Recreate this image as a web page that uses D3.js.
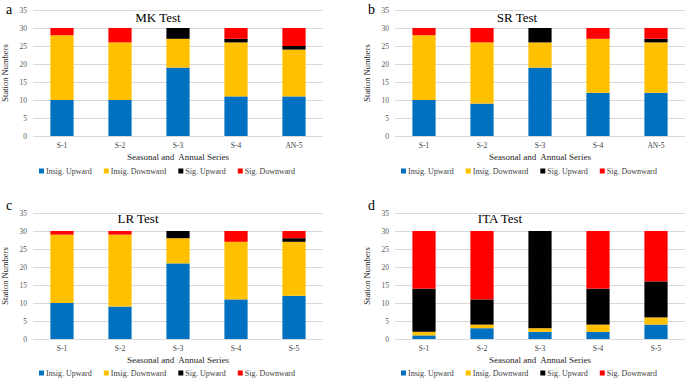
<!DOCTYPE html>
<html>
<head>
<meta charset="utf-8">
<script src="https://cdn.jsdelivr.net/npm/d3@7"></script>
<style>
  html, body { margin: 0; padding: 0; background: #fff; }
  svg { display: block; font-family: 'Liberation Serif', 'Times New Roman', serif; }
</style>
</head>
<body>
<script>
const seriesNames = ['Insig. Upward', 'Insig. Downward', 'Sig. Upward', 'Sig. Downward'];
const seriesColors = ['#0070c0', '#ffc000', '#000000', '#ff0000'];
const yTicks = [0, 5, 10, 15, 20, 25, 30, 35];

const catsAnnual = ['S-1', 'S-2', 'S-3', 'S-4', 'AN-5'];
const catsSeasonal = ['S-1', 'S-2', 'S-3', 'S-4', 'S-5'];

// rows follow seriesNames order, columns follow categories
const mkValues = [
  [10, 10, 19, 11, 11],
  [18, 16, 8, 15, 13],
  [0, 0, 3, 1, 1],
  [2, 4, 0, 3, 5]
];
const srValues = [
  [10, 9, 19, 12, 12],
  [18, 17, 7, 15, 14],
  [0, 0, 4, 0, 1],
  [2, 4, 0, 3, 3]
];
const lrValues = [
  [10, 9, 21, 11, 12],
  [19, 20, 7, 16, 15],
  [0, 0, 2, 0, 1],
  [1, 1, 0, 3, 2]
];
const itaValues = [
  [1, 3, 2, 2, 4],
  [1, 1, 1, 2, 2],
  [12, 7, 27, 10, 10],
  [16, 19, 0, 16, 14]
];

const svg = d3.select('body')
  .append('svg')
  .attr('width', 685)
  .attr('height', 379);

function drawPanel(p) {
  const dims = { gridLeft: 33, width: 290, top: 10, height: 126 };

  const g = svg.append('g')
    .attr('transform', `translate(${p.x} ${p.y})`);

  const xScale = d3.scaleBand()
    .domain(p.cats)
    .range([dims.gridLeft, dims.gridLeft + dims.width])
    .paddingInner(0.6)
    .paddingOuter(0.3);
  const yScale = d3.scaleLinear()
    .domain([0, 35])
    .range([dims.top + dims.height, dims.top]);

  // grid + y labels
  const yAxis = d3.axisLeft(yScale)
    .tickValues(yTicks)
    .tickSize(-dims.width)
    .tickPadding(6);
  const yAxisGroup = g.append('g')
    .attr('transform', `translate(${dims.gridLeft} 0)`)
    .call(yAxis);
  yAxisGroup.select('.domain').remove();
  yAxisGroup.selectAll('line').attr('stroke', '#d9d9d9');
  yAxisGroup.selectAll('text')
    .attr('fill', '#595959')
    .attr('font-size', 7.5)
    .style('font-family', 'Liberation Serif');

  // stacked bars
  const rows = p.cats.map((c, i) => {
    const r = { cat: c };
    seriesNames.forEach((s, k) => { r[s] = p.values[k][i]; });
    return r;
  });
  const stacked = d3.stack().keys(seriesNames)(rows);

  g.append('g')
    .selectAll('g')
    .data(stacked)
    .join('g')
    .attr('fill', (d, i) => seriesColors[i])
    .selectAll('rect')
    .data(d => d)
    .join('rect')
    .attr('x', d => xScale(d.data.cat))
    .attr('width', xScale.bandwidth())
    .attr('y', d => yScale(d[1]))
    .attr('height', d => yScale(d[0]) - yScale(d[1]));

  // x labels
  const xAxis = d3.axisBottom(xScale).tickSize(0).tickPadding(7);
  const xAxisGroup = g.append('g')
    .attr('transform', `translate(0 ${dims.top + dims.height})`)
    .call(xAxis);
  xAxisGroup.select('.domain').remove();
  xAxisGroup.selectAll('text')
    .attr('fill', '#404040')
    .attr('font-size', 7.5)
    .style('font-family', 'Liberation Serif');

  // titles
  g.append('text')
    .attr('x', 6)
    .attr('y', p.letterY)
    .attr('font-size', 14)
    .attr('fill', '#000')
    .text(p.letter);

  g.append('text')
    .attr('x', dims.gridLeft + p.titleX)
    .attr('y', p.titleY)
    .attr('text-anchor', 'middle')
    .attr('font-size', 13)
    .attr('fill', '#000')
    .text(p.title);

  g.append('text')
    .attr('transform', `translate(8 ${dims.top + dims.height / 2}) rotate(-90)`)
    .attr('text-anchor', 'middle')
    .attr('font-size', 8.5)
    .attr('fill', '#262626')
    .text('Station Numbers');

  g.append('text')
    .attr('x', dims.gridLeft + dims.width / 2)
    .attr('y', dims.top + dims.height + p.axisTitleDy)
    .attr('text-anchor', 'middle')
    .attr('font-size', 9)
    .attr('fill', '#262626')
    .style('white-space', 'pre')
    .text('Seasonal and  Annual Series');

  // legend
  const legend = g.append('g')
    .attr('transform', `translate(${dims.gridLeft + 6} ${dims.top + dims.height + p.legendDy})`);
  let lx = 0;
  seriesNames.forEach((s, i) => {
    legend.append('rect')
      .attr('x', lx)
      .attr('y', -2.5)
      .attr('width', 5)
      .attr('height', 5)
      .attr('fill', seriesColors[i]);
    const t = legend.append('text')
      .attr('x', lx + 7)
      .attr('y', 2.8)
      .attr('font-size', 8)
      .attr('fill', '#404040')
      .text(s);
    lx += 7 + t.node().getComputedTextLength() + 12;
  });
}

drawPanel({ x: 0, y: 0, letter: 'a', letterY: 14, title: 'MK Test', titleX: 125, titleY: 21.5,
  cats: catsAnnual, values: mkValues, axisTitleDy: 24, legendDy: 35 });
drawPanel({ x: 362, y: 0, letter: 'b', letterY: 14, title: 'SR Test', titleX: 122, titleY: 21.5,
  cats: catsAnnual, values: srValues, axisTitleDy: 24, legendDy: 35 });
drawPanel({ x: 0, y: 203, letter: 'c', letterY: 7, title: 'LR Test', titleX: 105, titleY: 19.5,
  cats: catsSeasonal, values: lrValues, axisTitleDy: 24, legendDy: 34 });
drawPanel({ x: 362, y: 203, letter: 'd', letterY: 7, title: 'ITA Test', titleX: 105, titleY: 19.5,
  cats: catsSeasonal, values: itaValues, axisTitleDy: 24, legendDy: 34 });
</script>
</body>
</html>
